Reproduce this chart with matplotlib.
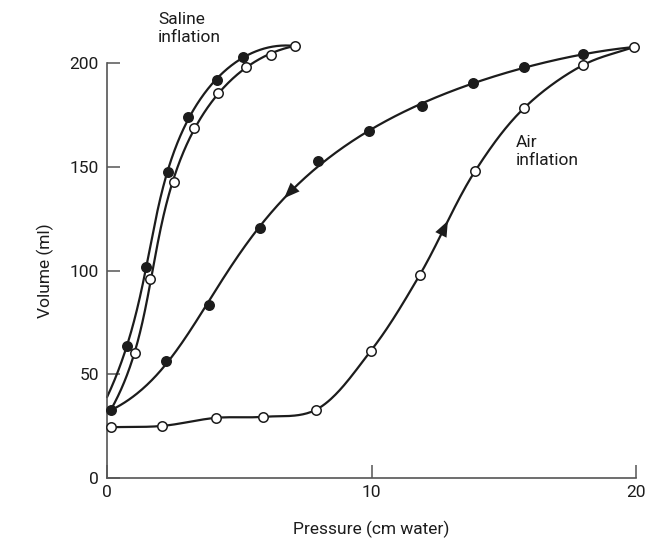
import numpy as np
import matplotlib
matplotlib.use("Agg")
import matplotlib.pyplot as plt

plt.rcParams['font.family'] = ['Roboto', 'DejaVu Sans']

# Pressure (cm water) and volume (ml) readings
saline_defl_p = [0.0, 0.76, 1.47, 2.31, 3.06, 4.16, 5.14, 7.1]
saline_defl_v = [39.0, 63.8, 101.9, 147.3, 173.9, 191.8, 202.9, 208.2]
saline_defl_marked = [False, True, True, True, True, True, True, False]

saline_infl_p = [0.15, 1.06, 1.63, 2.53, 3.29, 4.2, 5.26, 6.2, 7.1]
saline_infl_v = [33.0, 60.4, 96.1, 142.5, 168.6, 185.5, 198.1, 203.9, 208.2]
saline_infl_marked = [False, True, True, True, True, True, True, True, True]

air_infl_p = [0.15, 2.08, 4.12, 5.9, 7.9, 9.98, 11.83, 13.91, 15.77, 18.0, 19.92]
air_infl_v = [24.5, 25.1, 29.0, 29.5, 32.9, 61.4, 98.0, 147.8, 178.3, 199.0, 207.7]

air_defl_p = [0.15, 2.23, 3.86, 5.78, 7.98, 9.91, 11.91, 13.84, 15.77, 18.0, 19.92]
air_defl_v = [32.7, 56.5, 83.6, 120.3, 152.7, 167.1, 179.2, 190.3, 198.1, 204.3, 207.7]
air_defl_marked = [True] * 10 + [False]

x_ticks = [0, 10, 20]
y_ticks = [0, 50, 100, 150, 200]

# pixel-per-unit scales so curve parameters behave isotropically on screen
SX, SY = 26.45, 2.07


def catmull_rom(xs, ys, n=40, alpha=0.5):
    pts = np.column_stack([np.asarray(xs) * SX, np.asarray(ys) * SY])
    p = np.vstack([2 * pts[0] - pts[1], pts, 2 * pts[-1] - pts[-2]])
    out = []
    for i in range(1, len(p) - 2):
        p0, p1, p2, p3 = p[i - 1], p[i], p[i + 1], p[i + 2]
        t0 = 0.0
        t1 = t0 + np.linalg.norm(p1 - p0) ** alpha
        t2 = t1 + np.linalg.norm(p2 - p1) ** alpha
        t3 = t2 + np.linalg.norm(p3 - p2) ** alpha
        t = np.linspace(t1, t2, n)[:, None]
        a1 = (t1 - t) / (t1 - t0) * p0 + (t - t0) / (t1 - t0) * p1
        a2 = (t2 - t) / (t2 - t1) * p1 + (t - t1) / (t2 - t1) * p2
        a3 = (t3 - t) / (t3 - t2) * p2 + (t - t2) / (t3 - t2) * p3
        b1 = (t2 - t) / (t2 - t0) * a1 + (t - t0) / (t2 - t0) * a2
        b2 = (t3 - t) / (t3 - t1) * a2 + (t - t1) / (t3 - t1) * a3
        c = (t2 - t) / (t2 - t1) * b1 + (t - t1) / (t2 - t1) * b2
        out.append(c if i == 1 else c[1:])
    c = np.vstack(out)
    return c[:, 0] / SX, c[:, 1] / SY


def smooth_fit(xs, ys, deg=5, n=400):
    """Least-squares parametric polynomial through the readings (ends pinned)."""
    pts = np.column_stack([np.asarray(xs) * SX, np.asarray(ys) * SY])
    d = np.r_[0, np.cumsum(np.linalg.norm(np.diff(pts, axis=0), axis=1))]
    t = d / d[-1]
    w = np.ones(len(t))
    w[0] = w[-1] = 30.0
    cx = np.polyfit(t, pts[:, 0], deg, w=w)
    cy = np.polyfit(t, pts[:, 1], deg, w=w)
    tt = np.linspace(0, 1, n)
    return np.polyval(cx, tt) / SX, np.polyval(cy, tt) / SY


INK = '#1c1c1c'
AXC = '#555555'
FS = 12.5

fig = plt.figure(figsize=(6.55, 5.45), dpi=100)
ax = fig.add_axes([0.1634, 0.1229, 0.971 - 0.1634, 0.8844 - 0.1229])
ax.set_xlim(0, 20)
ax.set_ylim(0, 200)


def draw_curve(cx, cy, px, pv, marked, filled):
    ax.plot(cx, cy, color=INK, lw=1.6, clip_on=False, zorder=2,
            solid_capstyle='round')
    mx = [x for x, m in zip(px, marked) if m]
    my = [y for y, m in zip(pv, marked) if m]
    ax.plot(mx, my, 'o', ms=6.8, mew=1.1, mec=INK,
            mfc=INK if filled else 'white', clip_on=False, zorder=3)


sdx, sdy = smooth_fit(saline_defl_p, saline_defl_v, deg=5)
draw_curve(sdx, sdy, saline_defl_p, saline_defl_v, saline_defl_marked, True)
six, siy = smooth_fit(saline_infl_p, saline_infl_v, deg=5)
draw_curve(six, siy, saline_infl_p, saline_infl_v, saline_infl_marked, False)
aix, aiy = catmull_rom(air_infl_p, air_infl_v)
draw_curve(aix, aiy, air_infl_p, air_infl_v, [True] * len(air_infl_p), False)
adx, ady = smooth_fit(air_defl_p, air_defl_v, deg=5)
draw_curve(adx, ady, air_defl_p, air_defl_v, air_defl_marked, True)


def arrow_on(cx, cy, p_at, forward, step):
    i = int(np.argmin(np.abs(cx - p_at)))
    j = i + step if forward else i - step
    ax.annotate('', xy=(cx[j], cy[j]), xytext=(cx[i], cy[i]),
                arrowprops=dict(arrowstyle='-|>,head_length=0.75,head_width=0.3',
                                color=INK, lw=0, shrinkA=0, shrinkB=0,
                                mutation_scale=15), zorder=4)


arrow_on(aix, aiy, 12.72, True, 3)
arrow_on(adx, ady, 7.05, False, 8)

ax.text(1.93, 216.5, 'Saline\ninflation', fontsize=FS, color=INK,
        ha='left', va='center', linespacing=1.25)
ax.text(15.45, 157.5, 'Air\ninflation', fontsize=FS, color=INK,
        ha='left', va='center', linespacing=1.25)

for s in ('top', 'right'):
    ax.spines[s].set_visible(False)
for s in ('left', 'bottom'):
    ax.spines[s].set_color(AXC)
    ax.spines[s].set_linewidth(1.2)

ax.set_xticks(x_ticks)
ax.set_yticks(y_ticks)
ax.set_xticklabels([str(t) for t in x_ticks])
ax.set_yticklabels([str(t) for t in y_ticks])
ax.tick_params(direction='in', length=9.5, width=1.1, color=AXC,
               labelsize=FS, labelcolor=INK)
ax.tick_params(axis='y', pad=6)
ax.tick_params(axis='x', pad=5)

ax.set_xlabel('Pressure (cm water)', fontsize=FS, color=INK, labelpad=15)
ax.set_ylabel('Volume (ml)', fontsize=FS, color=INK, labelpad=11)

fig.savefig('out.png', dpi=100, facecolor='white')
